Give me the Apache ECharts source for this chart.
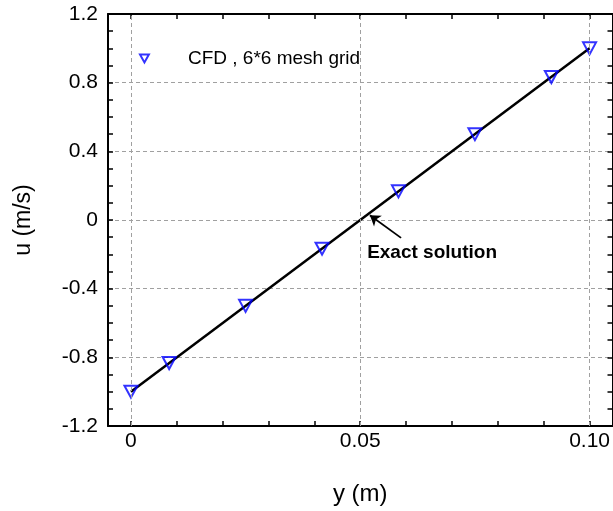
<!DOCTYPE html>
<html><head><meta charset="utf-8">
<script src="https://cdn.jsdelivr.net/npm/echarts@6/dist/echarts.min.js"></script>
<style>html,body{margin:0;padding:0;background:#fff}#c{width:613px;height:511px}</style>
</head><body><div id="c"></div>
<script>
// ---- data ----
const cfdY = [0, 0.00833, 0.025, 0.04167, 0.05833, 0.075, 0.09167, 0.1];
const cfdU = [-1.0, -0.833, -0.5, -0.167, 0.167, 0.5, 0.833, 1.0];
const exactY = [0, 0.1];
const exactU = [-1.0, 1.0];
const xMajorTicks = [0, 0.05, 0.1];
const xMajorLabels = ['0', '0.05', '0.10'];
const xMinorTicks = [0, 0.01, 0.02, 0.03, 0.04, 0.05, 0.06, 0.07, 0.08, 0.09, 0.1];
const yMajorTicks = [-1.2, -0.8, -0.4, 0, 0.4, 0.8, 1.2];
const legendName = 'CFD , 6*6 mesh grid';
const annotationText = 'Exact solution';
const arrowFrom = [0.0589, -0.104];
const arrowTo = [0.0521, 0.028];
const annotationAt = [0.0515, -0.191];

const FONT = '"Liberation Sans", Arial, sans-serif';
const chart = echarts.init(document.getElementById('c'), null, {renderer: 'canvas'});

const axisLine = {show: true, onZero: false, lineStyle: {color: '#000', width: 2}};
const tickStyle = {color: '#000', width: 1.5};

const option = {
  animation: false,
  backgroundColor: '#fff',
  grid: {left: 108, top: 14, width: 506, height: 414, containLabel: false},
  legend: {
    left: 139, top: 49, padding: 0,
    itemWidth: 9, itemHeight: 8,
    data: [{name: legendName, icon: 'path://M0,0L10,0L5,9Z'}],
    textStyle: {fontFamily: FONT, fontSize: 19, color: '#000', padding: [0, 0, 0, 34]}
  },
  xAxis: [
    {
      type: 'value', position: 'bottom', min: -0.005, max: 0.105,
      axisLine: axisLine,
      axisTick: {show: true, inside: true, length: 5, lineStyle: tickStyle, customValues: xMinorTicks},
      axisLabel: {show: true, customValues: xMajorTicks, margin: 5, fontFamily: FONT, fontSize: 21, color: '#000',
        formatter: v => { const i = xMajorTicks.findIndex(t => Math.abs(t - v) < 1e-9); return i >= 0 ? xMajorLabels[i] : ''; }},
      splitLine: {show: false},
      name: 'y (m)', nameLocation: 'middle', nameGap: 56,
      nameTextStyle: {fontFamily: FONT, fontSize: 24, color: '#000'}
    },
    {
      type: 'value', position: 'top', min: -0.005, max: 0.105,
      axisLine: axisLine,
      axisTick: {show: true, inside: true, length: 5, lineStyle: tickStyle, customValues: xMinorTicks},
      axisLabel: {show: false},
      splitLine: {show: false}
    }
  ],
  yAxis: [
    {
      type: 'value', position: 'left', min: -1.2, max: 1.2, interval: 0.4,
      axisLine: axisLine,
      axisTick: {show: true, inside: true, length: 5, lineStyle: tickStyle},
      minorTick: {show: true, splitNumber: 4, length: 5, lineStyle: tickStyle},
      axisLabel: {show: true, margin: 10, fontFamily: FONT, fontSize: 21, color: '#000',
        formatter: v => { const r = Math.round(v * 10) / 10; return r === 0 ? '0' : String(r); }},
      splitLine: {show: true, lineStyle: {color: '#a0a0a0', width: 1, type: [4, 3]}},
      name: 'u (m/s)', nameLocation: 'middle', nameGap: 73, nameRotate: 90,
      nameTextStyle: {fontFamily: FONT, fontSize: 23, color: '#000'}
    },
    {
      type: 'value', position: 'right', min: -1.2, max: 1.2, interval: 0.4,
      axisLine: axisLine,
      axisTick: {show: true, inside: true, length: 5, lineStyle: tickStyle},
      minorTick: {show: true, splitNumber: 4, length: 5, lineStyle: tickStyle},
      axisLabel: {show: false},
      splitLine: {show: false}
    }
  ],
  series: [
    {
      name: 'grid', type: 'line', data: [], z: 0, silent: true,
      markLine: {
        silent: true, symbol: ['none', 'none'], animation: false,
        label: {show: false},
        lineStyle: {color: '#a0a0a0', width: 1, type: [4, 3]},
        data: xMajorTicks.map(v => ({xAxis: v}))
      }
    },
    {
      name: 'exact', type: 'line', xAxisIndex: 0, yAxisIndex: 0, z: 2,
      data: exactY.map((y, i) => [y, exactU[i]]),
      showSymbol: false, symbol: 'none',
      lineStyle: {color: '#000', width: 2.5},
      markLine: {
        silent: true, symbol: ['none', 'arrow'], symbolSize: 10, animation: false,
        label: {show: false},
        itemStyle: {color: '#000'},
        lineStyle: {color: '#000', width: 1.8, type: 'solid'},
        data: [[{coord: arrowFrom}, {coord: arrowTo}]]
      },
      markPoint: {
        silent: true, symbol: 'circle', symbolSize: 0, animation: false,
        label: {show: true, position: 'right', distance: 0, formatter: annotationText,
          fontFamily: FONT, fontSize: 19, fontWeight: 'bold', color: '#000'},
        data: [{coord: annotationAt}]
      }
    },
    {
      name: legendName, type: 'scatter', xAxisIndex: 0, yAxisIndex: 0, z: 3,
      data: cfdY.map((y, i) => [y, cfdU[i]]),
      symbol: 'triangle', symbolRotate: 180, symbolSize: [13, 12],
      itemStyle: {color: 'rgba(255,255,255,0)', borderColor: '#0000ff', borderWidth: 2}
    }
  ]
};
chart.setOption(option);
</script>
</body></html>
